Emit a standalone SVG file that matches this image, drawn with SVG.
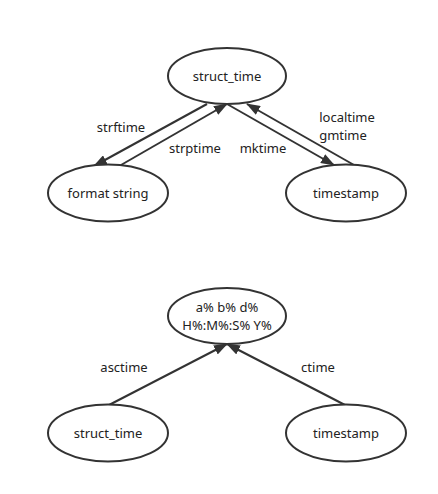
<svg xmlns="http://www.w3.org/2000/svg" width="438" height="494" viewBox="0 0 438 494">
<style>
.n ellipse{fill:#fff;stroke:#333;stroke-width:2}
text{font-family:"Noto Sans","Open Sans",sans-serif;font-size:13px;fill:#222;text-anchor:middle;dominant-baseline:central}
.c line{stroke:#333;stroke-width:2;marker-end:url(#a)}
</style>
<defs>
<marker id="a" viewBox="0 0 14 10" refX="13" refY="5" markerWidth="14" markerHeight="10" orient="auto" markerUnits="userSpaceOnUse">
<path d="M0,0 L14,5 L0,10 Z" fill="#333"/>
</marker>
</defs>
<rect width="438" height="494" fill="#fff"/>
<g class="c">
<line x1="207" y1="104" x2="94" y2="166"/>
<line x1="121" y1="165" x2="227" y2="104"/>
<line x1="227" y1="104" x2="334" y2="165"/>
<line x1="354" y1="165" x2="247" y2="104"/>
<line x1="109" y1="405" x2="227" y2="344"/>
<line x1="345" y1="405" x2="227" y2="344"/>
</g>
<g id="struct_time" class="n"><ellipse cx="227" cy="76" rx="59" ry="28"/><text x="227" y="76">struct_time</text></g>
<g id="format_string" class="n"><ellipse cx="108" cy="193" rx="60" ry="28.5"/><text x="108" y="193">format string</text></g>
<g id="timestamp" class="n"><ellipse cx="346" cy="193" rx="60" ry="28.5"/><text x="346" y="193">timestamp</text></g>
<g id="fmt" class="n"><ellipse cx="227" cy="316" rx="59" ry="28"/><text x="227" y="307">a% b% d%</text><text x="227" y="325">H%:M%:S% Y%</text></g>
<g id="struct_time2" class="n"><ellipse cx="108" cy="433" rx="60" ry="28.5"/><text x="108" y="433">struct_time</text></g>
<g id="timestamp2" class="n"><ellipse cx="346" cy="433" rx="60" ry="28.5"/><text x="346" y="433">timestamp</text></g>
<g id="labels">
<text x="121" y="127">strftime</text>
<text x="195" y="148">strptime</text>
<text x="263" y="148">mktime</text>
<text x="347" y="117">localtime</text>
<text x="343" y="135">gmtime</text>
<text x="124" y="367">asctime</text>
<text x="318" y="367">ctime</text>
</g>
</svg>
